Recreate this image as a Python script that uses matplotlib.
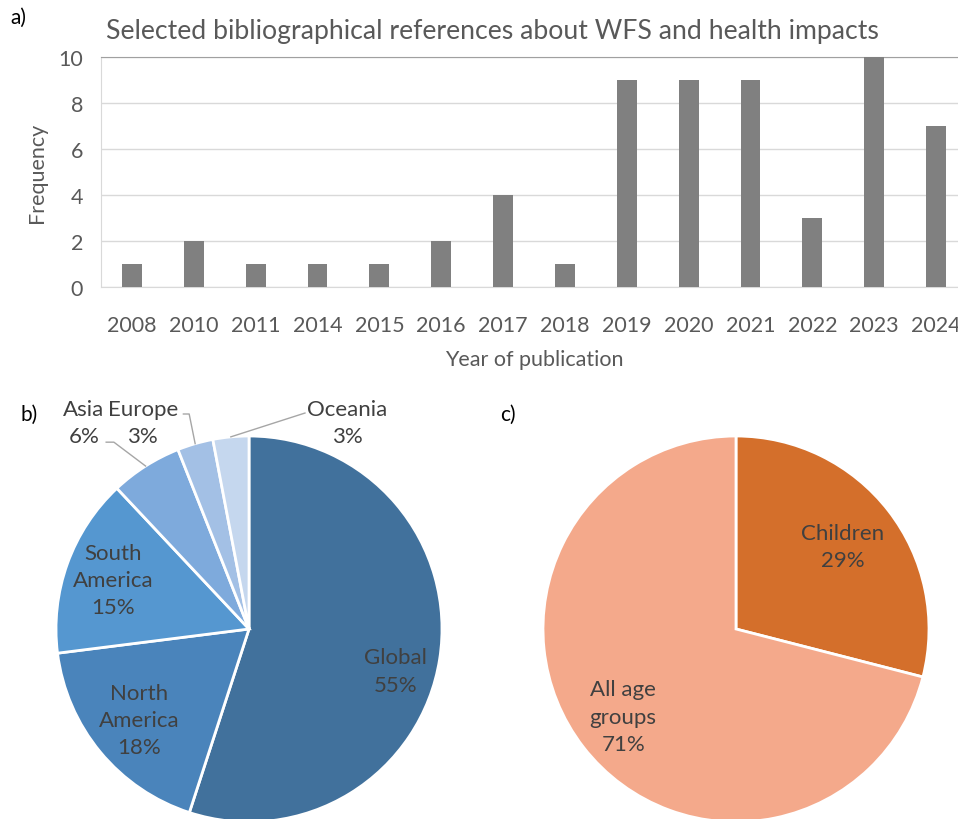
import numpy as np
import matplotlib
matplotlib.use("Agg")
import matplotlib.pyplot as plt

# data
years = ["2008", "2010", "2011", "2014", "2015", "2016", "2017",
         "2018", "2019", "2020", "2021", "2022", "2023", "2024"]
freq = [1, 2, 1, 1, 1, 2, 4, 1, 9, 9, 9, 3, 10, 7]

regions = ["Global", "North\nAmerica", "South\nAmerica", "Asia", "Europe", "Oceania"]
region_pct = [55, 18, 15, 6, 3, 3]

ages = ["Children", "All age\ngroups"]
age_pct = [29, 71]

plt.rcParams['font.family'] = ['Lato', 'DejaVu Sans']

W, H = 958, 820
fig = plt.figure(figsize=(W / 100, H / 100), dpi=100)

def px_axes(left, top, right, bottom):
    # pixel box (top-down) -> figure fraction axes
    return fig.add_axes([left / W, 1 - bottom / H, (right - left) / W, (bottom - top) / H])

# ---- a) bar chart
ax = px_axes(101, 58, 967, 288)
x = np.arange(len(years))
ax.bar(x, freq, width=0.32, color="#808080", zorder=3)
ax.set_xlim(-0.5, len(years) - 0.5)
ax.set_ylim(0, 10)
ax.set_yticks(range(0, 11, 2))
ax.set_xticks(x)
ax.set_xticklabels(years)
ax.yaxis.grid(True, color="#d9d9d9", linewidth=1, zorder=0)
ax.tick_params(length=0, labelsize=15.5, colors="#595959")
ax.tick_params(axis='y', pad=13)
ax.tick_params(axis='x', pad=20)
for s in ["left", "bottom"]:
    ax.spines[s].set_color("#d9d9d9")
ax.spines["top"].set_color("#a0a0a0")
ax.spines["right"].set_visible(False)
ax.set_ylabel("Frequency", fontsize=15.5, color="#595959", labelpad=8)
ax.set_xlabel("Year of publication", fontsize=15.5, color="#595959", labelpad=10)
fig.text(492 / W, 1 - 32 / H, "Selected bibliographical references about WFS and health impacts",
         ha="center", va="center", fontsize=19.2, color="#595959")

fig.text(10 / W, 1 - 18 / H, "a)", fontsize=15, va="center", color="black")
fig.text(20 / W, 1 - 415 / H, "b)", fontsize=15, va="center", color="black")
fig.text(500 / W, 1 - 415 / H, "c)", fontsize=15, va="center", color="black")

R = 193.0
def pie_axes(cx, cy):
    k = 1.4
    a = px_axes(cx - k * R, cy - k * R, cx + k * R, cy + k * R)
    a.set_xlim(-k, k)
    a.set_ylim(-k, k)
    a.set_aspect("equal")
    a.axis("off")
    return a

def mid_angle(w):
    return np.deg2rad((w.theta1 + w.theta2) / 2)

txt_kw = dict(ha="center", va="center", fontsize=16, color="#404040", linespacing=1.45)

# ---- b) region pie
axb = pie_axes(249, 630)
blues = ["#41719c", "#4a84bb", "#5597d0", "#7eaadc", "#a3c0e5", "#c5d7ee"]
wedges, _ = axb.pie(region_pct, colors=blues, startangle=90, counterclock=False,
                    wedgeprops=dict(edgecolor="white", linewidth=2))
axb.set_xlim(-1.4, 1.4)
axb.set_ylim(-1.4, 1.4)
inside = {0: (0.79, -7), 1: (0.74, 0), 2: (0.75, 0)}
for i, (r, da) in inside.items():
    a = mid_angle(wedges[i]) + np.deg2rad(da)
    axb.text(r * np.cos(a), r * np.sin(a), f"{regions[i]}\n{region_pct[i]}%", **txt_kw)
# outside labels with leader lines (text position, line knee)
outside = {3: ((-0.855, 1.07), [(-0.74, 0.968), (-0.70, 0.968)]),
           4: ((-0.55, 1.07), [(-0.34, 1.114), (-0.31, 1.114)]),
           5: ((0.51, 1.07), [(0.29, 1.119)])}
for i, ((tx, ty), knee) in outside.items():
    axb.text(tx, ty, f"{regions[i]}\n{region_pct[i]}%", **txt_kw)
    a = mid_angle(wedges[i])
    pts = knee + [(np.cos(a), np.sin(a))]
    axb.plot([p[0] for p in pts], [p[1] for p in pts], color="#a6a6a6", linewidth=1)

# ---- c) age pie
axc = pie_axes(736, 630)
wedges, _ = axc.pie(age_pct, colors=["#d46f2b", "#f4a98b"], startangle=90, counterclock=False,
                    wedgeprops=dict(edgecolor="white", linewidth=2))
axc.set_xlim(-1.4, 1.4)
axc.set_ylim(-1.4, 1.4)
for i, r in enumerate([0.7, 0.74]):
    a = mid_angle(wedges[i])
    axc.text(r * np.cos(a), r * np.sin(a), f"{ages[i]}\n{age_pct[i]}%", **txt_kw)

fig.savefig("out.png", dpi=100)
